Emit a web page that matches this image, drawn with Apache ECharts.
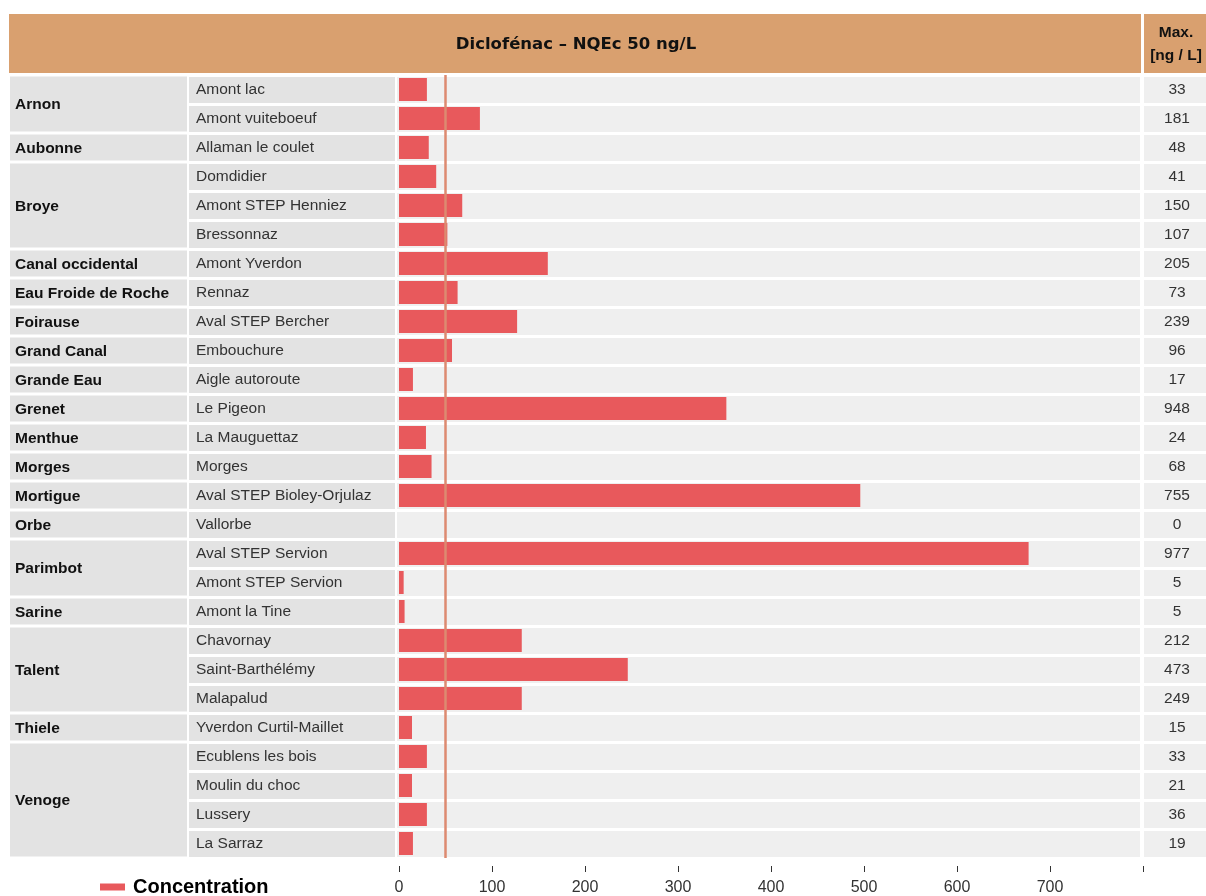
<!DOCTYPE html>
<html>
<head>
<meta charset="utf-8">
<script src="https://cdn.jsdelivr.net/npm/echarts@6/dist/echarts.min.js"></script>
<style>
html, body { margin: 0; padding: 0; background: #fff; }
#chart { width: 1206px; height: 896px; }
</style>
</head>
<body>
<div id="chart"></div>
<script>
// rivers (merged cells) and how many stations each one has
const groups = ['Arnon', 'Aubonne', 'Broye', 'Canal occidental', 'Eau Froide de Roche', 'Foirause',
  'Grand Canal', 'Grande Eau', 'Grenet', 'Menthue', 'Morges', 'Mortigue', 'Orbe', 'Parimbot',
  'Sarine', 'Talent', 'Thiele', 'Venoge'];
const groupSizes = [2, 1, 3, 1, 1, 1, 1, 1, 1, 1, 1, 1, 1, 2, 1, 3, 1, 4];

const stations = ['Amont lac', 'Amont vuiteboeuf', 'Allaman le coulet', 'Domdidier', 'Amont STEP Henniez',
  'Bressonnaz', 'Amont Yverdon', 'Rennaz', 'Aval STEP Bercher', 'Embouchure', 'Aigle autoroute',
  'Le Pigeon', 'La Mauguettaz', 'Morges', 'Aval STEP Bioley-Orjulaz', 'Vallorbe', 'Aval STEP Servion',
  'Amont STEP Servion', 'Amont la Tine', 'Chavornay', 'Saint-Barthélémy', 'Malapalud',
  'Yverdon Curtil-Maillet', 'Ecublens les bois', 'Moulin du choc', 'Lussery', 'La Sarraz'];

// bar length (ng/L)
const concentration = [30, 87, 32, 40, 68, 52, 160, 63, 127, 57, 15, 352, 29, 35, 496, 0, 677, 5, 6,
  132, 246, 132, 14, 30, 14, 30, 15];

// right hand column
const maxValues = [33, 181, 48, 41, 150, 107, 205, 73, 239, 96, 17, 948, 24, 68, 755, 0, 977, 5, 5,
  212, 473, 249, 15, 33, 21, 36, 19];

const nqe = 50;
const xMax = 800; // last tick, no label

const FONT = '"Liberation Sans", Arial, sans-serif';
const cellGrey = '#e3e3e3';
const cellLight = '#efefef';
const headColor = '#d9a06f';

// start/end row of each river
const groupData = [];
let start = 0;
groupSizes.forEach(function (n) {
  groupData.push([start, start + n]);
  start += n;
});

const TOP = 75, H = 783;

const rowLines = { show: true, interval: 0, lineStyle: { color: '#fff', width: 3 } };

const chart = echarts.init(document.getElementById('chart'));

chart.setOption({
  animation: false,
  grid: [
    { left: 10, top: TOP, width: 177, height: H },                                        // rivers
    { left: 189, top: TOP, width: 206, height: H, show: true, backgroundColor: cellGrey, borderWidth: 0 },  // stations
    { left: 397, top: TOP, width: 743, height: H, show: true, backgroundColor: cellLight, borderWidth: 0 }, // bar bg
    { left: 399, top: TOP, width: 744, height: H },                                       // bars
    { left: 1144, top: TOP, width: 62, height: H, show: true, backgroundColor: cellLight, borderWidth: 0 }  // max
  ],
  xAxis: [
    { gridIndex: 0, type: 'value', min: 0, max: 1, show: false },
    { gridIndex: 1, type: 'value', min: 0, max: 1, show: false },
    { gridIndex: 2, type: 'value', min: 0, max: 1, show: false },
    {
      gridIndex: 3, type: 'value', min: 0, max: xMax, interval: 100, offset: 8,
      axisLine: { show: false },
      axisTick: { show: true, length: 6, lineStyle: { color: '#333', width: 1 } },
      axisLabel: {
        fontSize: 16, color: '#333', margin: 14, fontFamily: FONT,
        formatter: function (v) { return v === xMax ? '' : String(v); }
      },
      splitLine: { show: false }
    },
    { gridIndex: 4, type: 'value', min: 0, max: 1, show: false }
  ],
  yAxis: [
    { gridIndex: 0, type: 'value', min: 0, max: 27, inverse: true, show: false },
    {
      gridIndex: 1, type: 'category', data: stations, inverse: true,
      axisLine: { show: false }, axisTick: { show: false, interval: 0 },
      axisLabel: { inside: true, interval: 0, margin: 7, color: '#333', fontSize: 15.5, fontFamily: FONT },
      splitLine: rowLines
    },
    {
      gridIndex: 2, type: 'category', data: stations, inverse: true,
      axisLine: { show: false }, axisTick: { show: false, interval: 0 },
      axisLabel: { show: false, interval: 0 },
      splitLine: rowLines
    },
    { gridIndex: 3, type: 'category', data: stations, inverse: true, show: false },
    {
      gridIndex: 4, type: 'category', data: stations, inverse: true,
      axisLine: { show: false }, axisTick: { show: false, interval: 0 },
      axisLabel: {
        inside: true, interval: 0, margin: 33, align: 'center', color: '#333', fontSize: 15.5, fontFamily: FONT,
        formatter: function (v, i) { return String(maxValues[i]); }
      },
      splitLine: rowLines
    }
  ],
  legend: {
    data: ['Concentration'],
    left: 100, top: 877, padding: 0,
    icon: 'rect', itemWidth: 25, itemHeight: 7,
    textStyle: { fontSize: 20, fontWeight: 'bold', color: '#000', fontFamily: FONT, padding: [0, 0, 0, 3] }
  },
  series: [
    {
      type: 'custom',
      xAxisIndex: 0, yAxisIndex: 0,
      silent: true,
      data: groupData,
      renderItem: function (params, api) {
        const a = api.coord([0, api.value(0)]);
        const b = api.coord([1, api.value(1)]);
        return {
          type: 'group',
          children: [
            { type: 'rect', shape: { x: a[0], y: a[1] + 1.5, width: b[0] - a[0], height: b[1] - a[1] - 3 },
              style: { fill: cellGrey } },
            { type: 'text', style: { text: groups[params.dataIndex], x: a[0] + 5, y: (a[1] + b[1]) / 2 + 1,
                verticalAlign: 'middle', fill: '#111', fontSize: 15.5, fontWeight: 'bold', fontFamily: FONT } }
          ]
        };
      }
    },
    {
      name: 'Concentration',
      type: 'bar',
      xAxisIndex: 3, yAxisIndex: 3,
      data: concentration,
      barWidth: 23,
      itemStyle: { color: '#e8595c' },
      markLine: {
        silent: true,
        symbol: ['none', 'none'],
        label: { show: false },
        lineStyle: { color: '#dd8a70', width: 2.5, type: 'solid', opacity: 1 },
        data: [{ xAxis: nqe }]
      }
    }
  ],
  graphic: [
    { type: 'rect', left: 9, top: 14, shape: { width: 1132, height: 59 }, style: { fill: headColor } },
    { type: 'rect', left: 1144, top: 14, shape: { width: 62, height: 59 }, style: { fill: headColor } },
    { type: 'text', x: 576, y: 45, style: { text: 'Diclofénac – NQEc 50 ng/L', align: 'center', verticalAlign: 'middle',
        fill: '#111', fontSize: 16.5, fontWeight: 'bold', fontFamily: '"DejaVu Sans", sans-serif' } },
    { type: 'text', x: 1176, y: 33, style: { text: 'Max.', align: 'center', verticalAlign: 'middle',
        fill: '#111', fontSize: 15.5, fontWeight: 'bold', fontFamily: FONT } },
    { type: 'text', x: 1176, y: 56, style: { text: '[ng / L]', align: 'center', verticalAlign: 'middle',
        fill: '#111', fontSize: 15.5, fontWeight: 'bold', fontFamily: FONT } }
  ]
});
</script>
</body>
</html>
